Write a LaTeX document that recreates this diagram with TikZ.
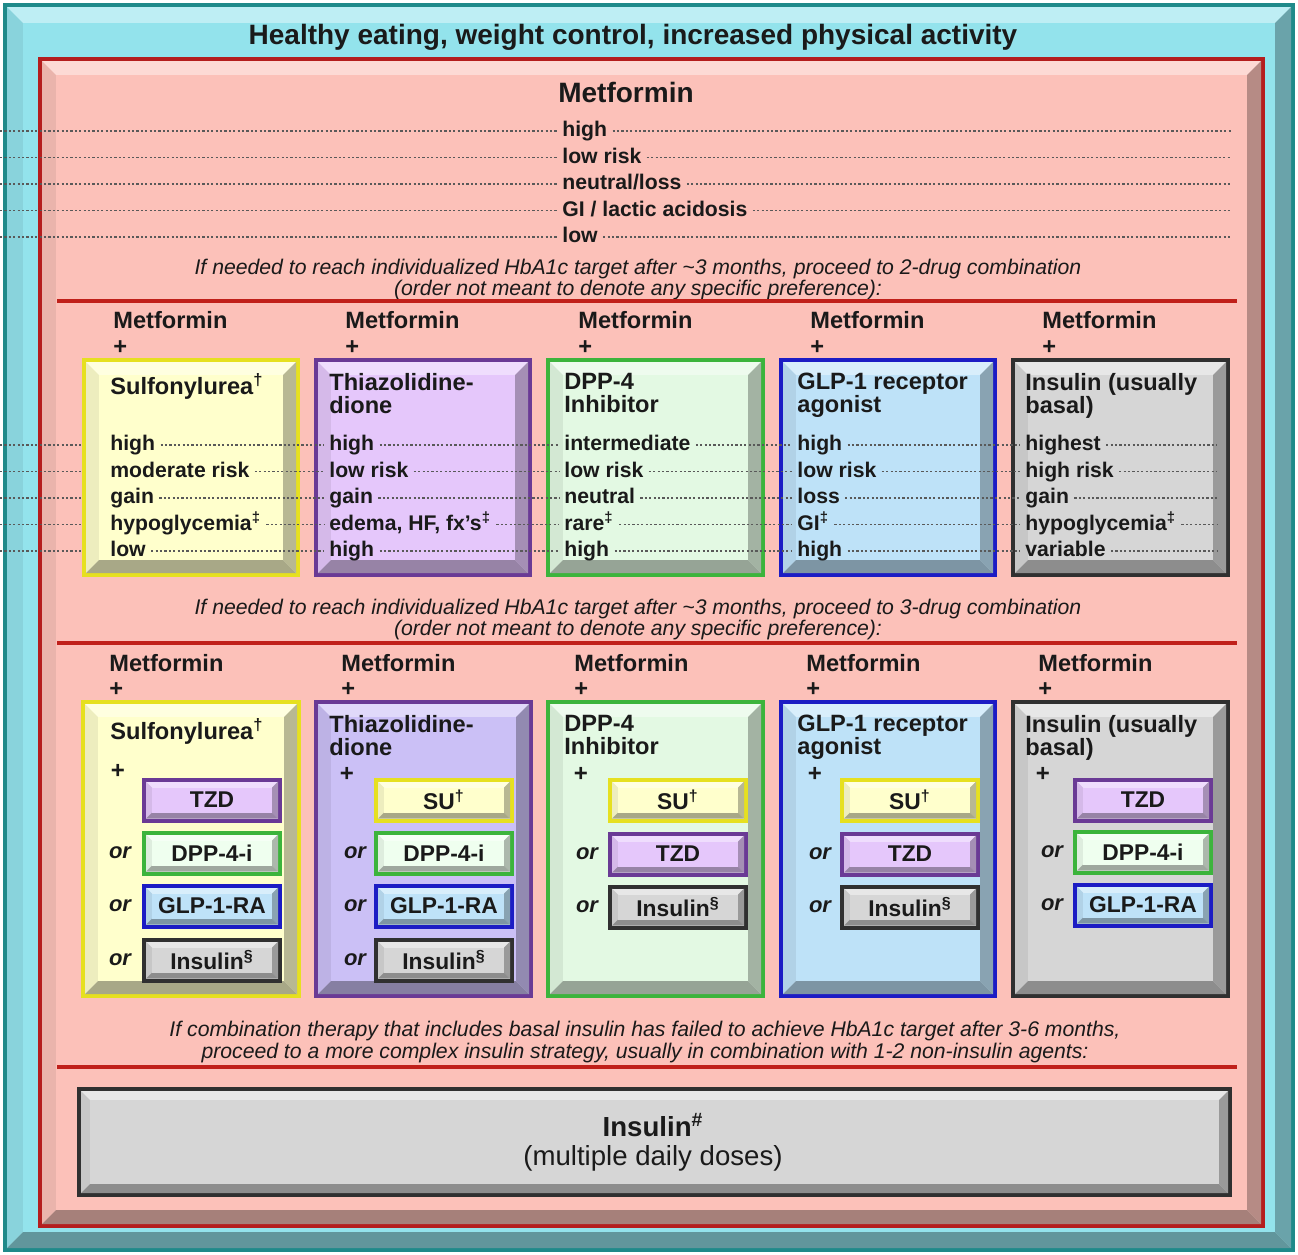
\documentclass[tikz,border=0pt]{standalone}
\usepackage{fontspec}
\setmainfont{Liberation Sans}
\usepackage{xcolor}

\definecolor{ink}{HTML}{1A1A1A}
\definecolor{cyanF}{HTML}{93E3EC}
\definecolor{cyanB}{HTML}{1F8A8A}
\definecolor{salF}{HTML}{FCC1B9}
\definecolor{salB}{HTML}{B41E1E}
\definecolor{sepred}{HTML}{C0201A}
\definecolor{suF}{HTML}{FFFFCC}
\definecolor{suB}{HTML}{E6E020}
\definecolor{tzF}{HTML}{E5C7FB}
\definecolor{tzFb}{HTML}{CBC0F6}
\definecolor{tzB}{HTML}{6A3A95}
\definecolor{dpF}{HTML}{E3F9E3}
\definecolor{dpFb}{HTML}{EFFFEF}
\definecolor{dpB}{HTML}{3CB43C}
\definecolor{glF}{HTML}{BEE2F8}
\definecolor{glB}{HTML}{1C1CC4}
\definecolor{inF}{HTML}{D6D6D6}
\definecolor{inB}{HTML}{303030}

% bevelled box: x1, y1, x2, y2, face, border, bevel width
\newcommand{\bevelbox}[7]{%
  \fill[#6] (#1,#2) rectangle (#3,#4);
  \fill[#5!60!white] (#1+4,#2+4) rectangle (#3-4,#4-4);
  \fill[#5!93!black] (#1+4,#2+4) -- (#1+4+#7,#2+4+#7) -- (#1+4+#7,#4-4-#7) -- (#1+4,#4-4) -- cycle;
  \fill[#5!72!black] (#3-4,#2+4) -- (#3-4-#7,#2+4+#7) -- (#3-4-#7,#4-4-#7) -- (#3-4,#4-4) -- cycle;
  \fill[#5!66!black] (#1+4,#4-4) -- (#1+4+#7,#4-4-#7) -- (#3-4-#7,#4-4-#7) -- (#3-4,#4-4) -- cycle;
  \fill[#5] (#1+4+#7,#2+4+#7) rectangle (#3-4-#7,#4-4-#7);
}
% small button: name, cx, cy, face, border, text
\newcommand{\btn}[6]{%
  \bevelbox{#2-70}{#3-22.5}{#2+70}{#3+22.5}{#4}{#5}{6}
  \node[btntxt] (#1) at (#2,#3) {#6};
}

\tikzset{
  txt/.style={inner sep=0pt, text=ink},
  val/.style={txt, anchor=west, font=\bfseries\fontsize{10.6}{12}\selectfont,
    text height=8pt, text depth=2.2pt, inner xsep=2.5pt},
  head/.style={txt, anchor=north west, align=left, font=\bfseries\fontsize{11.8}{11.5}\selectfont},
  note/.style={txt, align=center, font=\itshape\fontsize{10.6}{10.5}\selectfont},
  plus/.style={txt, font=\bfseries\fontsize{12}{12}\selectfont},
  btntxt/.style={txt, font=\bfseries\fontsize{11.4}{12}\selectfont},
  ortxt/.style={txt, font=\bfseries\itshape\fontsize{11}{12}\selectfont},
  dotline/.style={draw=black!65, line width=0.55pt, dash pattern=on 1.1pt off 1.1pt},
  sepline/.style={draw=sepred, line width=2pt},
}

\begin{document}
\begin{tikzpicture}[x=0.5pt, y=-0.5pt]
    \useasboundingbox (0,0) rectangle (1298,1255);
    \fill[white] (0,0) rectangle (1298,1255);

    % frames
    \bevelbox{3}{3}{1295}{1252}{cyanF}{cyanB}{16}
    \bevelbox{38}{57}{1265}{1228}{salF}{salB}{14}
    \node[txt, font=\bfseries\fontsize{14}{16}\selectfont] (life) at (633,37)
        {Healthy eating, weight control, increased physical activity};

    % metformin alone
    \node[txt, font=\bfseries\fontsize{14}{16}\selectfont] (metf) at (626,92) {Metformin};
    \foreach \t [count=\i] in {high, low risk, neutral/loss, GI / lactic acidosis, low}
        \node[val] (mf\i) at (557,131+26.5*\i-26.5) {\t};
    \foreach \i in {1,...,5}{
        \coordinate (mfL\i) at (0,131+26.5*\i-26.5);
        \coordinate (mfR\i) at (1231,131+26.5*\i-26.5);
        \draw[dotline] (mfL\i) -- (mf\i.west);
        \draw[dotline] (mf\i.east) -- (mfR\i);
    }

    \node[note] (step2) at (638,279.5) {If needed to reach individualized HbA1c target after \textasciitilde3 months, proceed to 2-drug combination\\
        (order not meant to denote any specific preference):};
    \draw[sepline] (57,301) -- (1237,301);

    % two-drug combinations
    \foreach \x [count=\i] in {113,345,578,810,1042}
        \node[head] (mB\i) at (\x,311) {Metformin\\[1.25pt]+};

    \bevelbox{82}{358}{300}{577}{suF}{suB}{13}
    \bevelbox{314}{358}{532}{577}{tzF}{tzB}{13}
    \bevelbox{546}{358}{765}{577}{dpF}{dpB}{13}
    \bevelbox{779}{358}{997}{577}{glF}{glB}{13}
    \bevelbox{1011}{358}{1230}{577}{inF}{inB}{13}

    \node[head] (suT) at (110,373) {Sulfonylurea\textsuperscript{†}};
    \node[head] (tzT) at (329,373) {Thiazolidine-\\dione};
    \node[head] (dpT) at (564,373) {DPP-4\\Inhibitor};
    \node[head] (glT) at (797,373) {GLP-1 receptor\\agonist};
    \node[head] (inT) at (1025,373) {Insulin (usually\\basal)};

    \foreach \t [count=\i] in {high, moderate risk, gain, hypoglycemia\textsuperscript{‡}, low}
        \node[val] (su\i) at (105,445+26.5*\i-26.5) {\t};
    \foreach \t [count=\i] in {high, low risk, gain, {edema, HF, fx’s\textsuperscript{‡}}, high}
        \node[val] (tz\i) at (324,445+26.5*\i-26.5) {\t};
    \foreach \t [count=\i] in {intermediate, low risk, neutral, rare\textsuperscript{‡}, high}
        \node[val] (dp\i) at (559,445+26.5*\i-26.5) {\t};
    \foreach \t [count=\i] in {high, low risk, loss, GI\textsuperscript{‡}, high}
        \node[val] (gl\i) at (792,445+26.5*\i-26.5) {\t};
    \foreach \t [count=\i] in {highest, high risk, gain, hypoglycemia\textsuperscript{‡}, variable}
        \node[val] (in\i) at (1020,445+26.5*\i-26.5) {\t};

    \foreach \i in {1,...,5}{
        \coordinate (vL\i) at (0,445+26.5*\i-26.5);
        \coordinate (vM\i) at (81,445+26.5*\i-26.5);
        \coordinate (vR\i) at (1217,445+26.5*\i-26.5);
        \draw[dotline] (vL\i) -- (vM\i);
        \draw[dotline] (su\i.east) -- (tz\i.west);
        \draw[dotline] (tz\i.east) -- (dp\i.west);
        \draw[dotline] (dp\i.east) -- (gl\i.west);
        \draw[dotline] (gl\i.east) -- (in\i.west);
        \draw[dotline] (in\i.east) -- (vR\i);
    }

    \node[note] (step3) at (638,619.5) {If needed to reach individualized HbA1c target after \textasciitilde3 months, proceed to 3-drug combination\\
        (order not meant to denote any specific preference):};
    \draw[sepline] (57,643) -- (1237,643);

    % three-drug combinations
    \foreach \x [count=\i] in {109,341,574,806,1038}
        \node[head] (mC\i) at (\x,654) {Metformin\\[0.75pt]+};

    \bevelbox{81}{700}{301}{998}{suF}{suB}{13}
    \bevelbox{314}{700}{533}{998}{tzFb}{tzB}{13}
    \bevelbox{546}{700}{765}{998}{dpF}{dpB}{13}
    \bevelbox{779}{700}{997}{998}{glF}{glB}{13}
    \bevelbox{1011}{700}{1230}{998}{inF}{inB}{13}

    \node[head] (suU) at (110,718) {Sulfonylurea\textsuperscript{†}};
    \node[head] (tzU) at (329,715) {Thiazolidine-\\dione};
    \node[head] (dpU) at (564,715) {DPP-4\\Inhibitor};
    \node[head] (glU) at (797,715) {GLP-1 receptor\\agonist};
    \node[head] (inU) at (1025,715) {Insulin (usually\\basal)};

    \node[plus] (suP) at (118,771) {+};
    \node[plus] (tzP) at (347,774) {+};
    \node[plus] (dpP) at (581,774) {+};
    \node[plus] (glP) at (815,774) {+};
    \node[plus] (inP) at (1043,774) {+};

    \btn{su1}{212}{800}{tzF}{tzB}{TZD}
    \btn{su2}{212}{853}{dpFb}{dpB}{DPP-4-i}
    \btn{su3}{212}{906}{glF}{glB}{GLP-1-RA}
    \btn{su4}{212}{960}{inF}{inB}{Insulin\textsuperscript{§}}

    \btn{tz1}{444}{800}{suF}{suB}{SU\textsuperscript{†}}
    \btn{tz2}{444}{853}{dpFb}{dpB}{DPP-4-i}
    \btn{tz3}{444}{906}{glF}{glB}{GLP-1-RA}
    \btn{tz4}{444}{960}{inF}{inB}{Insulin\textsuperscript{§}}

    \btn{dp1}{678}{800}{suF}{suB}{SU\textsuperscript{†}}
    \btn{dp2}{678}{854}{tzF}{tzB}{TZD}
    \btn{dp3}{678}{907}{inF}{inB}{Insulin\textsuperscript{§}}

    \btn{gl1}{910}{800}{suF}{suB}{SU\textsuperscript{†}}
    \btn{gl2}{910}{854}{tzF}{tzB}{TZD}
    \btn{gl3}{910}{907}{inF}{inB}{Insulin\textsuperscript{§}}

    \btn{in1}{1143}{800}{tzF}{tzB}{TZD}
    \btn{in2}{1143}{852}{dpFb}{dpB}{DPP-4-i}
    \btn{in3}{1143}{905}{glF}{glB}{GLP-1-RA}

    \foreach \y in {853,906,960} \node[ortxt] at (120,\y) {or};
    \foreach \y in {853,906,960} \node[ortxt] at (355,\y) {or};
    \foreach \y in {854,907} \node[ortxt] at (587,\y) {or};
    \foreach \y in {854,907} \node[ortxt] at (820,\y) {or};
    \foreach \y in {852,905} \node[ortxt] at (1052,\y) {or};

    \node[note, font=\itshape\fontsize{10.6}{11}\selectfont] (step4) at (645,1042)
        {If combination therapy that includes basal insulin has failed to achieve HbA1c target after 3-6 months,\\
        proceed to a more complex insulin strategy, usually in combination with 1-2 non-insulin agents:};
    \draw[sepline] (57,1067) -- (1237,1067);

    % insulin, multiple daily doses
    \bevelbox{77}{1087}{1232}{1197}{inF}{inB}{9}
    \node[txt, font=\bfseries\fontsize{13.8}{15}\selectfont] (mdi) at (653,1125) {Insulin\textsuperscript{\#}};
    \node[txt, font=\fontsize{13.8}{15}\selectfont] (mdd) at (653,1158) {(multiple daily doses)};
\end{tikzpicture}
\end{document}
